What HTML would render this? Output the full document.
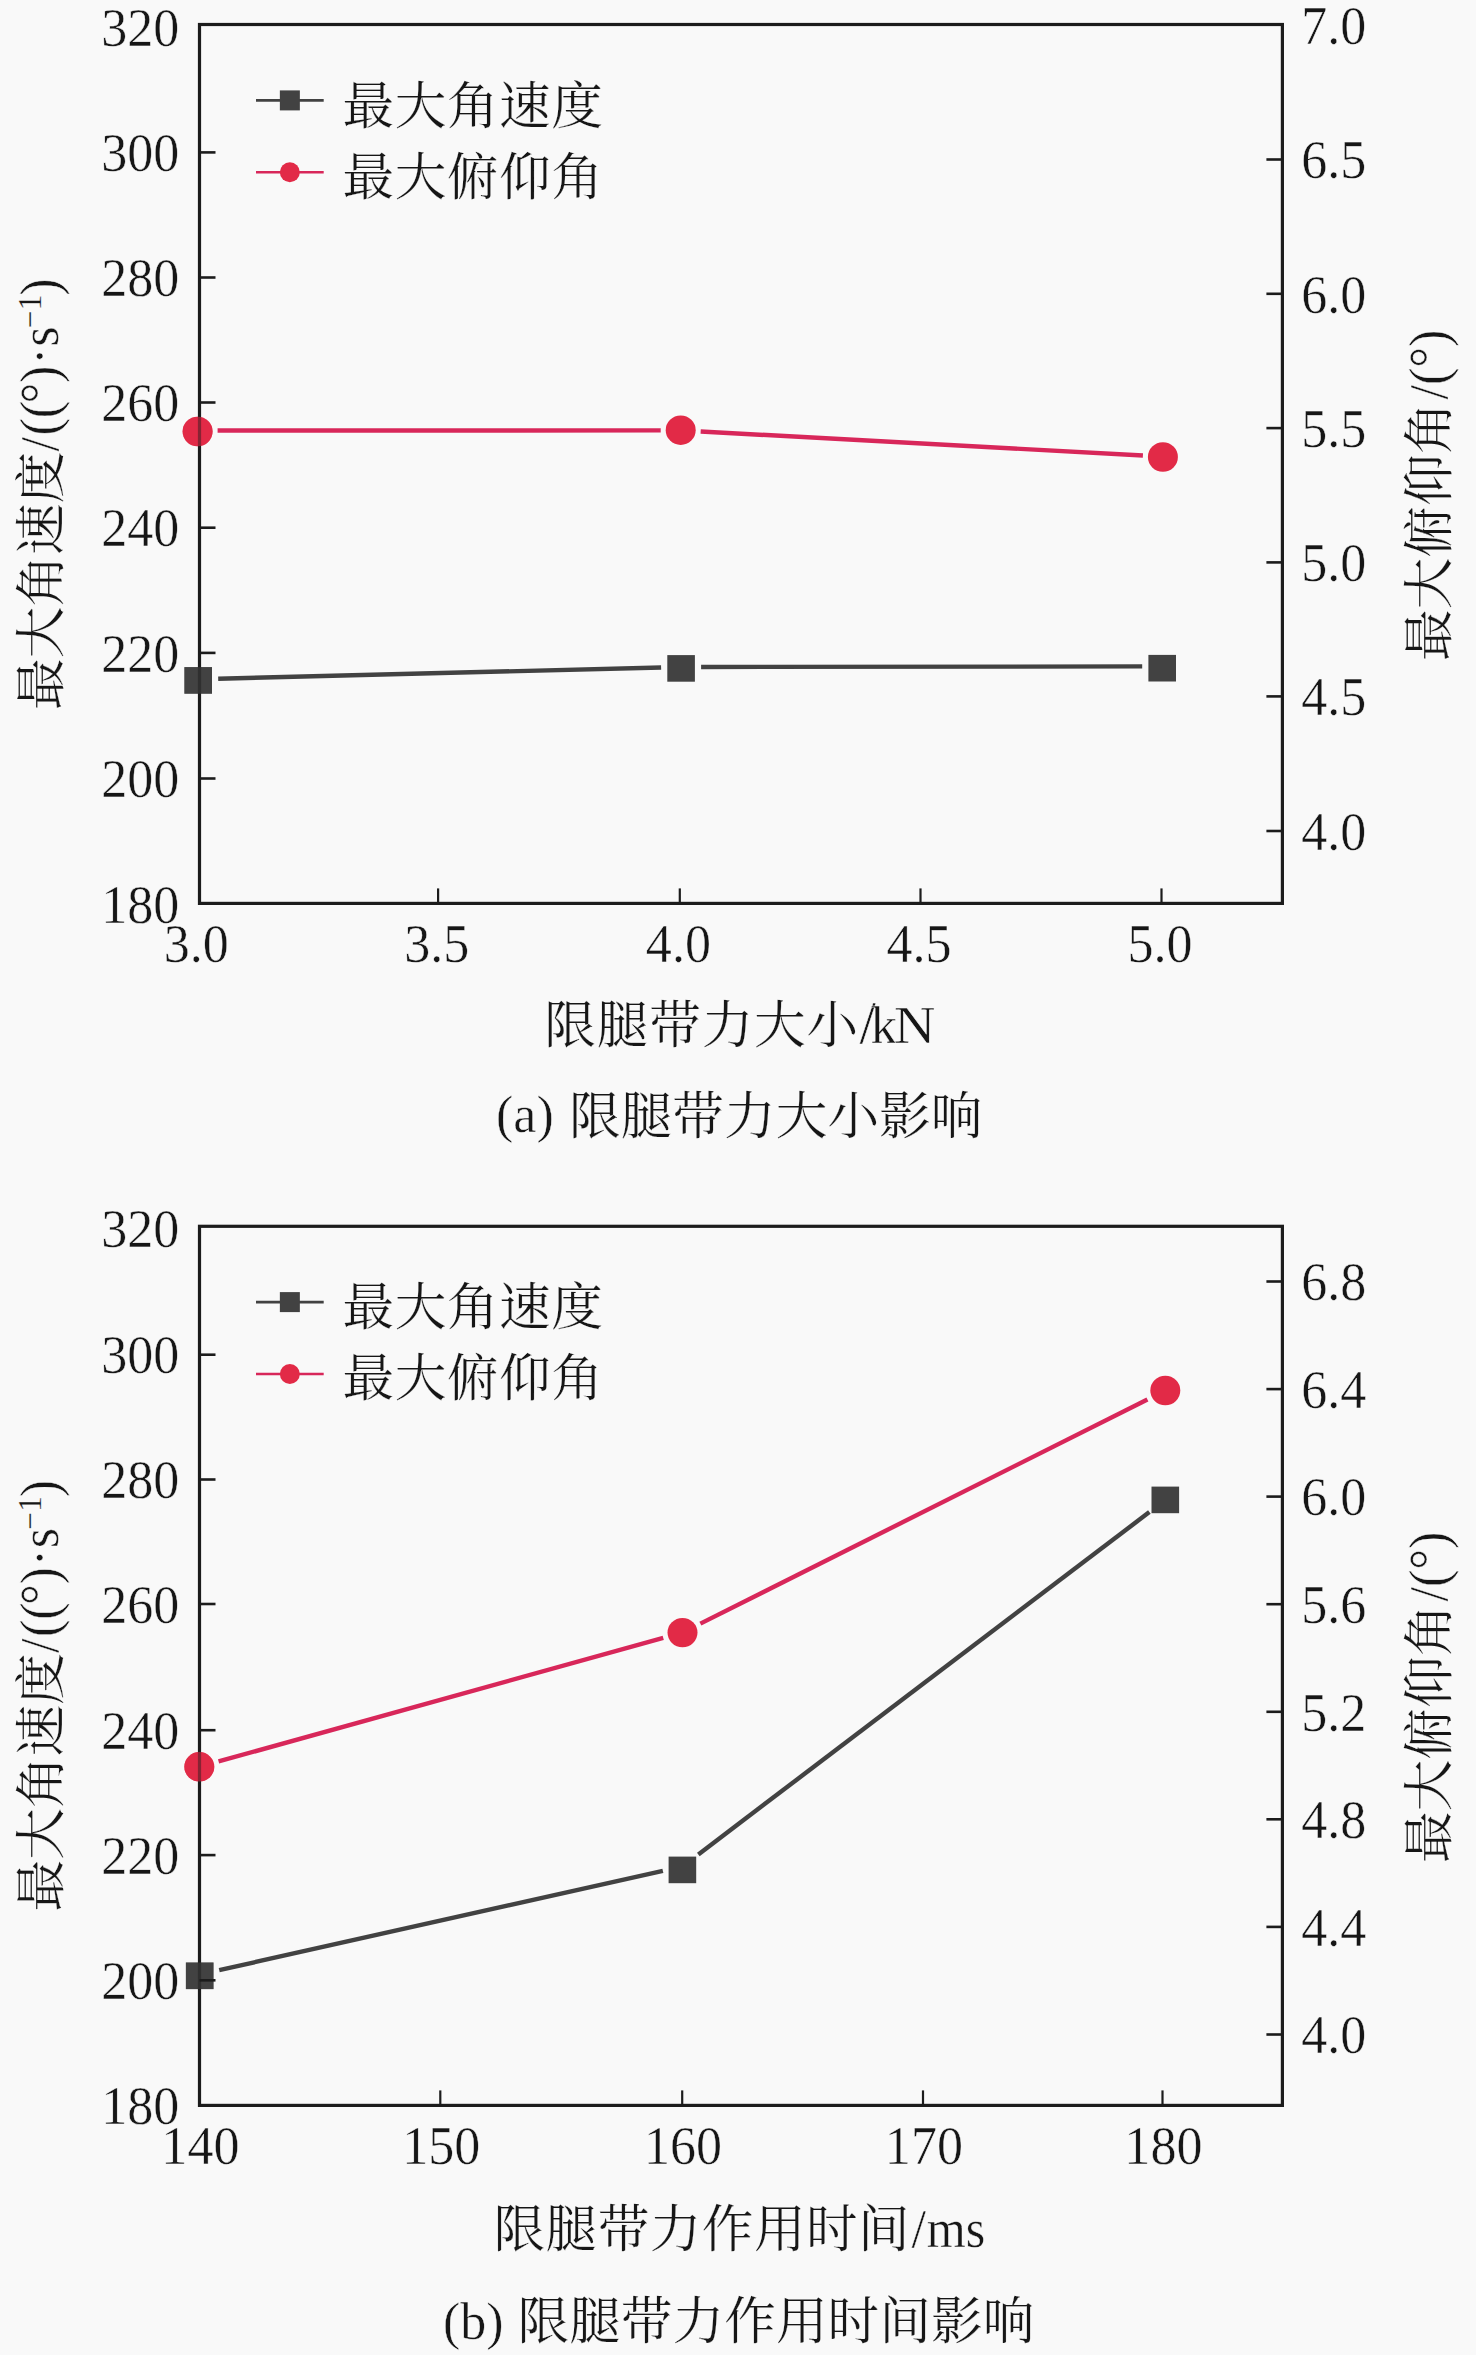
<!DOCTYPE html>
<html lang="zh-CN">
<head>
<meta charset="utf-8">
<title>限腿带力影响</title>
<style>
html, body { margin: 0; padding: 0; background: #f9f9f9; }
body { width: 1476px; height: 2355px; overflow: hidden; }
svg { display: block; }
svg text { font-family: "Liberation Serif", "Noto Serif CJK SC", serif; fill: #161616; stroke: #f9f9f9; stroke-width: 0.45px; }
svg text.c { stroke-width: 0.2px; }
svg text.s { stroke-width: 0.2px; }
</style>
</head>
<body>
<svg width="1476" height="2355" viewBox="0 0 1476 2355">
<rect x="0" y="0" width="1476" height="2355" fill="#f9f9f9"/>
<g id="chart-a">
<line x1="218.19" y1="678.69" x2="661.11" y2="667.51" stroke="#424242" stroke-width="4.4"/>
<line x1="701.10" y1="666.98" x2="1142.20" y2="666.42" stroke="#424242" stroke-width="4.4"/>
<line x1="217.60" y1="430.50" x2="660.70" y2="430.40" stroke="#d8275a" stroke-width="4.4"/>
<line x1="700.67" y1="431.49" x2="1142.93" y2="455.51" stroke="#d8275a" stroke-width="4.4"/>
<rect x="184.40" y="667.10" width="27.6" height="26.6" fill="#424242"/>
<rect x="667.30" y="655.10" width="27.6" height="26.6" fill="#424242"/>
<rect x="1148.40" y="654.90" width="27.6" height="26.6" fill="#424242"/>
<ellipse cx="197.6" cy="431.5" rx="15" ry="14.7" fill="#e22a47"/>
<ellipse cx="680.7" cy="430.2" rx="15" ry="14.7" fill="#e22a47"/>
<ellipse cx="1162.9" cy="457.0" rx="15" ry="14.7" fill="#e22a47"/>
<rect x="199.5" y="24.5" width="1082.9" height="878.9" fill="none" stroke="#1c1c1c" stroke-width="3.2"/>
<rect x="184.40" y="667.10" width="27.6" height="26.6" fill="#424242" fill-opacity="0.5"/>
<ellipse cx="197.6" cy="431.5" rx="15" ry="14.7" fill="#e22a47" fill-opacity="0.55"/>
<line x1="199.5" y1="152.4" x2="215.5" y2="152.4" stroke="#1c1c1c" stroke-width="2.6"/>
<line x1="199.5" y1="277.5" x2="215.5" y2="277.5" stroke="#1c1c1c" stroke-width="2.6"/>
<line x1="199.5" y1="402.5" x2="215.5" y2="402.5" stroke="#1c1c1c" stroke-width="2.6"/>
<line x1="199.5" y1="527.7" x2="215.5" y2="527.7" stroke="#1c1c1c" stroke-width="2.6"/>
<line x1="199.5" y1="652.9" x2="215.5" y2="652.9" stroke="#1c1c1c" stroke-width="2.6"/>
<line x1="199.5" y1="778.5" x2="215.5" y2="778.5" stroke="#1c1c1c" stroke-width="2.6"/>
<line x1="1282.4" y1="159.5" x2="1266.4" y2="159.5" stroke="#1c1c1c" stroke-width="2.6"/>
<line x1="1282.4" y1="293.8" x2="1266.4" y2="293.8" stroke="#1c1c1c" stroke-width="2.6"/>
<line x1="1282.4" y1="428.1" x2="1266.4" y2="428.1" stroke="#1c1c1c" stroke-width="2.6"/>
<line x1="1282.4" y1="562.4" x2="1266.4" y2="562.4" stroke="#1c1c1c" stroke-width="2.6"/>
<line x1="1282.4" y1="696.4" x2="1266.4" y2="696.4" stroke="#1c1c1c" stroke-width="2.6"/>
<line x1="1282.4" y1="831.0" x2="1266.4" y2="831.0" stroke="#1c1c1c" stroke-width="2.6"/>
<line x1="438.1" y1="903.4" x2="438.1" y2="888.4" stroke="#1c1c1c" stroke-width="2.2"/>
<line x1="679.8" y1="903.4" x2="679.8" y2="888.4" stroke="#1c1c1c" stroke-width="2.2"/>
<line x1="920.5" y1="903.4" x2="920.5" y2="888.4" stroke="#1c1c1c" stroke-width="2.2"/>
<line x1="1161.5" y1="903.4" x2="1161.5" y2="888.4" stroke="#1c1c1c" stroke-width="2.2"/>
<text transform="translate(179.3 45.9) scale(0.94 1)" text-anchor="end" font-size="55.4">320</text>
<text transform="translate(179.3 171.1) scale(0.94 1)" text-anchor="end" font-size="55.4">300</text>
<text transform="translate(179.3 296.2) scale(0.94 1)" text-anchor="end" font-size="55.4">280</text>
<text transform="translate(179.3 421.2) scale(0.94 1)" text-anchor="end" font-size="55.4">260</text>
<text transform="translate(179.3 546.4) scale(0.94 1)" text-anchor="end" font-size="55.4">240</text>
<text transform="translate(179.3 671.6) scale(0.94 1)" text-anchor="end" font-size="55.4">220</text>
<text transform="translate(179.3 797.2) scale(0.94 1)" text-anchor="end" font-size="55.4">200</text>
<text transform="translate(179.3 922.6) scale(0.94 1)" text-anchor="end" font-size="55.4">180</text>
<text transform="translate(1301.3 44.1) scale(0.94 1)" text-anchor="start" font-size="55.4">7.0</text>
<text transform="translate(1301.3 178.2) scale(0.94 1)" text-anchor="start" font-size="55.4">6.5</text>
<text transform="translate(1301.3 312.5) scale(0.94 1)" text-anchor="start" font-size="55.4">6.0</text>
<text transform="translate(1301.3 446.8) scale(0.94 1)" text-anchor="start" font-size="55.4">5.5</text>
<text transform="translate(1301.3 581.1) scale(0.94 1)" text-anchor="start" font-size="55.4">5.0</text>
<text transform="translate(1301.3 715.1) scale(0.94 1)" text-anchor="start" font-size="55.4">4.5</text>
<text transform="translate(1301.3 849.7) scale(0.94 1)" text-anchor="start" font-size="55.4">4.0</text>
<text transform="translate(196.3 962) scale(0.94 1)" text-anchor="middle" font-size="55.4">3.0</text>
<text transform="translate(436.7 962) scale(0.94 1)" text-anchor="middle" font-size="55.4">3.5</text>
<text transform="translate(678.4 962) scale(0.94 1)" text-anchor="middle" font-size="55.4">4.0</text>
<text transform="translate(919.1 962) scale(0.94 1)" text-anchor="middle" font-size="55.4">4.5</text>
<text transform="translate(1160.1 962) scale(0.94 1)" text-anchor="middle" font-size="55.4">5.0</text>
<line x1="256" y1="100.4" x2="323.7" y2="100.4" stroke="#424242" stroke-width="2.6"/>
<rect x="279.85" y="90.4" width="20" height="20" fill="#424242"/>
<text class="c" x="342.5" y="123.5" text-anchor="start" font-size="51.7" letter-spacing="0.5">最大角速度</text>
<line x1="256" y1="172.3" x2="323.7" y2="172.3" stroke="#d8275a" stroke-width="2.6"/>
<circle cx="289.85" cy="172.3" r="10" fill="#e22a47"/>
<text class="c" x="342.5" y="194.5" text-anchor="start" font-size="51.7" letter-spacing="0.5">最大俯仰角</text>
<g transform="translate(59 710) rotate(-90)">
<text class="c" x="0" y="0" text-anchor="start" font-size="51.7">最大角速度</text>
<text transform="translate(258.4 -1) scale(0.94 1)" text-anchor="start" font-size="55.4">/</text>
<text transform="translate(274.5 -1) scale(0.94 1)" text-anchor="start" font-size="55.4">((</text>
<text transform="translate(306.6 -1) scale(0.94 1)" text-anchor="start" font-size="55.4">°</text>
<text transform="translate(327 -1) scale(0.94 1)" text-anchor="start" font-size="55.4">)</text>
<text transform="translate(345.2 -1) scale(0.94 1)" text-anchor="start" font-size="55.4">·</text>
<text transform="translate(363.2 -1) scale(0.94 1)" text-anchor="start" font-size="55.4">s</text>
<text class="s" transform="translate(381.8 -18) scale(0.94 1)" text-anchor="start" font-size="33">−</text>
<text class="s" transform="translate(399.7 -18) scale(0.94 1)" text-anchor="start" font-size="33">1</text>
<text transform="translate(414.3 -1) scale(0.94 1)" text-anchor="start" font-size="55.4">)</text>
</g>
<g transform="translate(1447 661) rotate(-90)">
<text class="c" x="0" y="0" text-anchor="start" font-size="51.7">最大俯仰角</text>
<text transform="translate(261.5 -0.5) scale(0.94 1)" text-anchor="start" font-size="55.4">/(°)</text>
</g>
<g transform="translate(544.3 1043.3)">
<text class="c" x="0" y="0" text-anchor="start" font-size="51.7" letter-spacing="0.76">限腿带力大小</text>
<text transform="translate(315.3 -0.5) scale(0.95 1)" text-anchor="start" font-size="62">/</text>
<text transform="translate(326.1 -0.5) scale(1.0 1)" text-anchor="start" font-size="53">k</text>
<text transform="translate(349.7 -0.5) scale(1.08 1)" text-anchor="start" font-size="53">N</text>
</g>
<g transform="translate(496 1133.7)">
<text transform="translate(0 -1.3) scale(0.985 1)" text-anchor="start" font-size="52.8">(a)</text>
<text class="c" x="73" y="0" text-anchor="start" font-size="51.7">限腿带力大小影响</text>
</g>
</g>
<g id="chart-b">
<line x1="219.22" y1="1970.13" x2="662.88" y2="1870.87" stroke="#424242" stroke-width="4.4"/>
<line x1="698.33" y1="1854.41" x2="1149.37" y2="1512.09" stroke="#424242" stroke-width="4.4"/>
<line x1="218.57" y1="1761.45" x2="663.23" y2="1637.95" stroke="#d8275a" stroke-width="4.4"/>
<line x1="700.38" y1="1623.63" x2="1147.42" y2="1399.47" stroke="#d8275a" stroke-width="4.4"/>
<rect x="185.90" y="1962.50" width="27.6" height="26.6" fill="#424242"/>
<rect x="668.60" y="1856.60" width="27.6" height="26.6" fill="#424242"/>
<rect x="1151.50" y="1486.60" width="27.6" height="26.6" fill="#424242"/>
<ellipse cx="199.3" cy="1766.8" rx="15" ry="14.7" fill="#e22a47"/>
<ellipse cx="682.5" cy="1632.6" rx="15" ry="14.7" fill="#e22a47"/>
<ellipse cx="1165.3" cy="1390.5" rx="15" ry="14.7" fill="#e22a47"/>
<rect x="199.5" y="1226.3" width="1082.9" height="879.1000000000001" fill="none" stroke="#1c1c1c" stroke-width="3.2"/>
<rect x="185.90" y="1962.50" width="27.6" height="26.6" fill="#424242" fill-opacity="0.5"/>
<ellipse cx="199.3" cy="1766.8" rx="15" ry="14.7" fill="#e22a47" fill-opacity="0.55"/>
<line x1="199.5" y1="1354.7" x2="215.5" y2="1354.7" stroke="#1c1c1c" stroke-width="2.6"/>
<line x1="199.5" y1="1479.5" x2="215.5" y2="1479.5" stroke="#1c1c1c" stroke-width="2.6"/>
<line x1="199.5" y1="1604.0" x2="215.5" y2="1604.0" stroke="#1c1c1c" stroke-width="2.6"/>
<line x1="199.5" y1="1730.2" x2="215.5" y2="1730.2" stroke="#1c1c1c" stroke-width="2.6"/>
<line x1="199.5" y1="1855.1" x2="215.5" y2="1855.1" stroke="#1c1c1c" stroke-width="2.6"/>
<line x1="199.5" y1="1980.3" x2="215.5" y2="1980.3" stroke="#1c1c1c" stroke-width="2.6"/>
<line x1="1282.4" y1="1281.5" x2="1266.4" y2="1281.5" stroke="#1c1c1c" stroke-width="2.6"/>
<line x1="1282.4" y1="1389.1" x2="1266.4" y2="1389.1" stroke="#1c1c1c" stroke-width="2.6"/>
<line x1="1282.4" y1="1496.6" x2="1266.4" y2="1496.6" stroke="#1c1c1c" stroke-width="2.6"/>
<line x1="1282.4" y1="1604.2" x2="1266.4" y2="1604.2" stroke="#1c1c1c" stroke-width="2.6"/>
<line x1="1282.4" y1="1711.8" x2="1266.4" y2="1711.8" stroke="#1c1c1c" stroke-width="2.6"/>
<line x1="1282.4" y1="1819.3" x2="1266.4" y2="1819.3" stroke="#1c1c1c" stroke-width="2.6"/>
<line x1="1282.4" y1="1926.9" x2="1266.4" y2="1926.9" stroke="#1c1c1c" stroke-width="2.6"/>
<line x1="1282.4" y1="2034.5" x2="1266.4" y2="2034.5" stroke="#1c1c1c" stroke-width="2.6"/>
<line x1="440.3" y1="2105.4" x2="440.3" y2="2090.4" stroke="#1c1c1c" stroke-width="2.2"/>
<line x1="682.2" y1="2105.4" x2="682.2" y2="2090.4" stroke="#1c1c1c" stroke-width="2.2"/>
<line x1="923.0" y1="2105.4" x2="923.0" y2="2090.4" stroke="#1c1c1c" stroke-width="2.2"/>
<line x1="1162.5" y1="2105.4" x2="1162.5" y2="2090.4" stroke="#1c1c1c" stroke-width="2.2"/>
<text transform="translate(179.3 1246.6) scale(0.94 1)" text-anchor="end" font-size="55.4">320</text>
<text transform="translate(179.3 1373.4) scale(0.94 1)" text-anchor="end" font-size="55.4">300</text>
<text transform="translate(179.3 1498.2) scale(0.94 1)" text-anchor="end" font-size="55.4">280</text>
<text transform="translate(179.3 1622.7) scale(0.94 1)" text-anchor="end" font-size="55.4">260</text>
<text transform="translate(179.3 1748.9) scale(0.94 1)" text-anchor="end" font-size="55.4">240</text>
<text transform="translate(179.3 1873.8) scale(0.94 1)" text-anchor="end" font-size="55.4">220</text>
<text transform="translate(179.3 1999.0) scale(0.94 1)" text-anchor="end" font-size="55.4">200</text>
<text transform="translate(179.3 2124.3) scale(0.94 1)" text-anchor="end" font-size="55.4">180</text>
<text transform="translate(1301.3 1300.2) scale(0.94 1)" text-anchor="start" font-size="55.4">6.8</text>
<text transform="translate(1301.3 1407.8) scale(0.94 1)" text-anchor="start" font-size="55.4">6.4</text>
<text transform="translate(1301.3 1515.3) scale(0.94 1)" text-anchor="start" font-size="55.4">6.0</text>
<text transform="translate(1301.3 1622.9) scale(0.94 1)" text-anchor="start" font-size="55.4">5.6</text>
<text transform="translate(1301.3 1730.5) scale(0.94 1)" text-anchor="start" font-size="55.4">5.2</text>
<text transform="translate(1301.3 1838.0) scale(0.94 1)" text-anchor="start" font-size="55.4">4.8</text>
<text transform="translate(1301.3 1945.6) scale(0.94 1)" text-anchor="start" font-size="55.4">4.4</text>
<text transform="translate(1301.3 2053.2) scale(0.94 1)" text-anchor="start" font-size="55.4">4.0</text>
<text transform="translate(200.4 2163.5) scale(0.94 1)" text-anchor="middle" font-size="55.4">140</text>
<text transform="translate(441.2 2163.5) scale(0.94 1)" text-anchor="middle" font-size="55.4">150</text>
<text transform="translate(683.1 2163.5) scale(0.94 1)" text-anchor="middle" font-size="55.4">160</text>
<text transform="translate(923.9 2163.5) scale(0.94 1)" text-anchor="middle" font-size="55.4">170</text>
<text transform="translate(1163.4 2163.5) scale(0.94 1)" text-anchor="middle" font-size="55.4">180</text>
<line x1="256" y1="1302.1" x2="323.7" y2="1302.1" stroke="#424242" stroke-width="2.6"/>
<rect x="279.85" y="1292.1" width="20" height="20" fill="#424242"/>
<text class="c" x="342.5" y="1325.2" text-anchor="start" font-size="51.7" letter-spacing="0.5">最大角速度</text>
<line x1="256" y1="1374.0" x2="323.7" y2="1374.0" stroke="#d8275a" stroke-width="2.6"/>
<circle cx="289.85" cy="1374.0" r="10" fill="#e22a47"/>
<text class="c" x="342.5" y="1396.2" text-anchor="start" font-size="51.7" letter-spacing="0.5">最大俯仰角</text>
<g transform="translate(59 1911.5) rotate(-90)">
<text class="c" x="0" y="0" text-anchor="start" font-size="51.7">最大角速度</text>
<text transform="translate(258.4 -1) scale(0.94 1)" text-anchor="start" font-size="55.4">/</text>
<text transform="translate(274.5 -1) scale(0.94 1)" text-anchor="start" font-size="55.4">((</text>
<text transform="translate(306.6 -1) scale(0.94 1)" text-anchor="start" font-size="55.4">°</text>
<text transform="translate(327 -1) scale(0.94 1)" text-anchor="start" font-size="55.4">)</text>
<text transform="translate(345.2 -1) scale(0.94 1)" text-anchor="start" font-size="55.4">·</text>
<text transform="translate(363.2 -1) scale(0.94 1)" text-anchor="start" font-size="55.4">s</text>
<text class="s" transform="translate(381.8 -18) scale(0.94 1)" text-anchor="start" font-size="33">−</text>
<text class="s" transform="translate(399.7 -18) scale(0.94 1)" text-anchor="start" font-size="33">1</text>
<text transform="translate(414.3 -1) scale(0.94 1)" text-anchor="start" font-size="55.4">)</text>
</g>
<g transform="translate(1447 1863) rotate(-90)">
<text class="c" x="0" y="0" text-anchor="start" font-size="51.7">最大俯仰角</text>
<text transform="translate(261.5 -0.5) scale(0.94 1)" text-anchor="start" font-size="55.4">/(°)</text>
</g>
<g transform="translate(493.5 2247.2)">
<text class="c" x="0" y="0" text-anchor="start" font-size="51.7" letter-spacing="0.4">限腿带力作用时间</text>
<text transform="translate(418 -0.4) scale(0.94 1)" text-anchor="start" font-size="55.4">/</text>
<text transform="translate(433.2 -0.4) scale(0.905 1)" text-anchor="start" font-size="55.4">ms</text>
</g>
<g transform="translate(443 2338.6)">
<text transform="translate(0 -0.1) scale(0.985 1)" text-anchor="start" font-size="52.8">(b)</text>
<text class="c" x="74.5" y="0" text-anchor="start" font-size="51.7">限腿带力作用时间影响</text>
</g>
</g>
</svg>
</body>
</html>
